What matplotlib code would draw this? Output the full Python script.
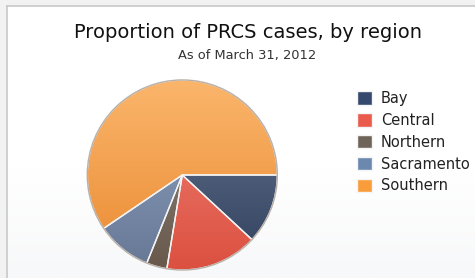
import matplotlib
matplotlib.use("Agg")
import matplotlib.pyplot as plt
import numpy as np
from matplotlib.colors import to_rgb

regions = ["Bay", "Central", "Northern", "Sacramento", "Southern"]
shares = [11.9, 15.7, 3.5, 9.4, 59.5]
colors = ["#34496D", "#EA5B4B", "#6F6459", "#6D88AF", "#F99D3A"]
title = "Proportion of PRCS cases, by region"
subtitle = "As of March 31, 2012"

W, H = 475, 278
fig = plt.figure(figsize=(W / 100, H / 100), dpi=100)
fig.patch.set_facecolor("#F2F2F2")

# background panel
bg = fig.add_axes([7 / W, 0, 1 - 7 / W, 1 - 6 / H], zorder=-5)
grad = np.linspace(0, 1, 100)[:, None]
top = np.array(to_rgb("#FFFFFF"))
bot = np.array(to_rgb("#F7F8F9"))
t = np.clip((grad - 0.6) / 0.4, 0, 1)
img = top[None, None, :] * (1 - t[..., None]) + bot[None, None, :] * t[..., None]
bg.imshow(img, aspect="auto", extent=[0, 1, 0, 1], origin="upper")
bg.set_xlim(0, 1); bg.set_ylim(0, 1)
bg.set_xticks([]); bg.set_yticks([])
for s in bg.spines.values():
    s.set_visible(False)
for k in ("left", "top"):
    bg.spines[k].set_visible(True)
    bg.spines[k].set_color("#C8C8C8")
    bg.spines[k].set_linewidth(1.2)

fig.text(248 / W, 1 - 33 / H, title, ha="center", va="center",
         fontsize=14, color="#111111", family="DejaVu Sans")
fig.text(247 / W, 1 - 56 / H, subtitle, ha="center", va="center",
         fontsize=9.4, color="#333333", family="DejaVu Sans")

# pie axes
cx, cy, r = 182.3, 175.0, 95.0
lim = 1.02
ax = fig.add_axes([(cx - r * lim) / W, (H - cy - r * lim) / H,
                   2 * r * lim / W, 2 * r * lim / H])
wedges, _ = ax.pie(shares, colors=colors, startangle=0, counterclock=False,
                   wedgeprops=dict(edgecolor="#F4F4F4", linewidth=1.0))
ax.set_aspect("equal")
ax.axis("off")

g = np.linspace(0, 1, 256)[:, None]
for w, c in zip(wedges, colors):
    base = np.array(to_rgb(c))
    light = base + (1 - base) * 0.25
    dark = base * np.array([0.94, 0.88, 0.85])
    im = light[None, None, :] * (1 - g[..., None]) + dark[None, None, :] * g[..., None]
    im = np.repeat(im, 2, axis=1)
    ii = ax.imshow(im, extent=[-1, 1, -1, 1], origin="upper", aspect="auto", zorder=1.5)
    ii.set_clip_path(w)
    w.set_zorder(1)
    edge = matplotlib.patches.Wedge(w.center, w.r, w.theta1, w.theta2,
                                    facecolor="none", edgecolor="#F4F4F4",
                                    linewidth=1.0, zorder=2)
    ax.add_patch(edge)
circ = matplotlib.patches.Circle((0, 0), 1.0, facecolor="none",
                                 edgecolor="#B8B0A8", linewidth=1.0, zorder=3)
ax.add_patch(circ)
ax.set_xlim(-lim, lim)
ax.set_ylim(-lim, lim)

leg = fig.legend(wedges, regions, loc="upper left",
                 bbox_to_anchor=(357 / W, 1 - 91 / H),
                 frameon=False, fontsize=10.5, handlelength=1.03,
                 handleheight=1.03, labelspacing=0.47, handletextpad=0.6,
                 borderpad=0, borderaxespad=0)
for t_ in leg.get_texts():
    t_.set_color("#222222")

fig.savefig("out.png", dpi=100, facecolor=fig.get_facecolor())
